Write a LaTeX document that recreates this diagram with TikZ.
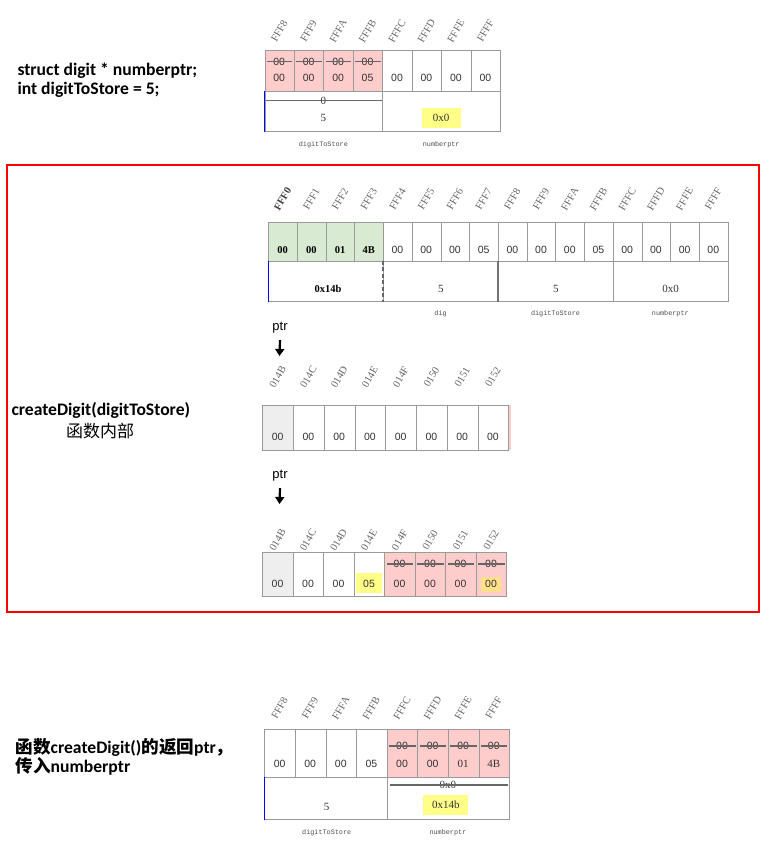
\documentclass[tikz,border=0pt]{standalone}
\usepackage{fontspec}
\setmainfont{Liberation Serif}
\newfontfamily\calib{Carlito}
\newfontfamily\cjk{Noto Sans CJK SC}
\newfontfamily\arial{Liberation Sans}
\newfontfamily\mono{Liberation Mono}
\usetikzlibrary{arrows.meta,calc}
\definecolor{pinkc}{HTML}{FFCCCC}
\definecolor{greenc}{HTML}{D9EAD3}
\definecolor{greyc}{HTML}{EEEEEE}
\definecolor{hlyellow}{HTML}{FFFF88}
\definecolor{hlorange}{HTML}{FFE08A}
\definecolor{gridc}{HTML}{9A9A9A}
\tikzset{
	cell/.style={draw=gridc, line width=0.8pt, anchor=north west, inner sep=0pt},
	addr/.style={rotate=60, text=black!60, font=\fontsize{10.5}{10.5}\selectfont, inner sep=0pt},
	val/.style={font=\arial\fontsize{10.5}{10.5}\selectfont, text=black!80, inner sep=1pt},
	sval/.style={font=\fontsize{11}{11}\selectfont, text=black!80, inner sep=1pt},
	bval/.style={font=\bfseries\fontsize{10.5}{10.5}\selectfont, inner sep=1pt},
	varname/.style={font=\mono\fontsize{6.8}{6.8}\selectfont, text=black!70},
	strikeln/.style={draw=black!60, line width=1.2pt},
	hl/.style={fill=hlyellow, inner sep=0pt},
	ptrtxt/.style={font=\arial\fontsize{13}{13}\selectfont},
	ptrarrow/.style={-{Triangle[length=7pt,width=9pt]}, line width=2.2pt},
	codetxt/.style={font=\calib\bfseries\fontsize{17.6}{19}\selectfont, anchor=west, align=left},
}
\begin{document}
\begin{tikzpicture}[x=1pt, y=-1pt]
		\useasboundingbox (0,0) rectangle (775,865);
		
		%%%%% declarations %%%%%
		\node[codetxt] (decl) at (14,80) {struct digit * numberptr;\\int digitToStore = 5;};
		
		\foreach \a [count=\i] in {FFF8,FFF9,FFFA,FFFB,FFFC,FFFD,FFFE,FFFF}
			\node[addr] (ta\i) at ({264.5+(\i-0.5)*29.45}, 31) {\a};
		\foreach \i/\f in {1/pinkc,2/pinkc,3/pinkc,4/pinkc,5/white,6/white,7/white,8/white}
			\node[cell, fill=\f, minimum width=29.45pt, minimum height=41pt] (tc\i) at ({264.5+(\i-1)*29.45}, 50) {};
		\foreach \v [count=\i] in {00,00,00,05,00,00,00,00}
			\node[val] (tv\i) at ({264.5+(\i-0.5)*29.45}, 78) {\v};
		\foreach \i in {1,...,4} {
			\node[val] (ts\i) at ({264.5+(\i-0.5)*29.45}, 61.5) {00};
			\draw[strikeln] ([xshift=2.5pt]tc\i.west |- ts\i.center) -- ([xshift=-2.5pt]tc\i.east |- ts\i.center);
		}
		\node[cell, minimum width=117.8pt, minimum height=40pt] (tdig) at (264.5,91) {};
		\node[cell, minimum width=117.8pt, minimum height=40pt] (tptr) at (382.3,91) {};
		\draw[blue, line width=1pt] (tdig.north west) -- (tdig.south west);
		\node[sval] (told) at (323.4,100.7) {0};
		\draw[strikeln] ([xshift=1.5pt]tdig.west |- told.center) -- ([xshift=-1.5pt]tdig.east |- told.center);
		\node[sval] (tfive) at (323.4,118) {5};
		\node[sval, hl, minimum width=39pt, minimum height=20pt] (tnull) at (441.2,118) {0x0};
		\node[varname] at (323.4,145) {digitToStore};
		\node[varname] at (441.2,145) {numberptr};
		
		%%%%% inside createDigit %%%%%
		\draw[red, line width=1.2pt] (7,165) rectangle (759,612);
		\node[codetxt] (call) at (8,410) {createDigit(digitToStore)};
		\node[font=\cjk\fontsize{17}{17}\selectfont] (inside) at (100,431) {函数内部};
		
		\foreach \a [count=\i] in {FFF1,FFF2,FFF3,FFF4,FFF5,FFF6,FFF7,FFF8,FFF9,FFFA,FFFB,FFFC,FFFD,FFFE,FFFF}
			\node[addr] (sa\i) at ({268.3+(\i+0.5)*28.71}, 199) {\a};
		\node[addr, text=black!75, font=\bfseries\fontsize{10.5}{10.5}\selectfont] (sa0) at ({268.3+0.5*28.71}, 199) {FFF0};
		\foreach \i/\f in {1/greenc,2/greenc,3/greenc,4/greenc,5/white,6/white,7/white,8/white,9/white,10/white,11/white,12/white,13/white,14/white,15/white,16/white}
			\node[cell, fill=\f, minimum width=28.71pt, minimum height=39pt] (sc\i) at ({268.3+(\i-1)*28.71}, 221.7) {};
		\foreach \v [count=\i] in {00,00,01,4B}
			\node[bval] (sv\i) at ({268.3+(\i-0.5)*28.71}, 250) {\v};
		\foreach \v [count=\i from 5] in {00,00,00,05,00,00,00,05,00,00,00,00}
			\node[val] (sv\i) at ({268.3+(\i-0.5)*28.71}, 250) {\v};
		\foreach \i in {1,...,4}
			\node[cell, minimum width=114.84pt, minimum height=40.3pt] (sg\i) at ({268.3+(\i-1)*114.84}, 260.7) {};
		\draw[blue, line width=1pt] (sg1.north west) -- (sg1.south west);
		\draw[black!60, line width=2pt, dash pattern=on 4pt off 2.5pt] (sg2.north west) -- (sg2.south west);
		\draw[black!55, line width=2pt] (sg3.north west) -- (sg3.south west);
		\node[bval] (sptr) at ($(sg1.center)+(2,8)$) {0x14b};
		\node[sval] (sdie) at ($(sg2.center)+(0,8)$) {5};
		\node[sval] (sdig) at ($(sg3.center)+(0,8)$) {5};
		\node[sval] (snum) at ($(sg4.center)+(0,8)$) {0x0};
		\node[varname] at (440.6,314) {dig};
		\node[varname] at (555.5,314) {digitToStore};
		\node[varname] at (670.3,314) {numberptr};
		
		% heap, after malloc
		\node[ptrtxt] (ptra) at (280,328) {ptr};
		\coordinate (ptraend) at (279.5,356);
		\draw[ptrarrow] ([yshift=-3pt]ptra.south) -- (ptraend);
		\foreach \a [count=\i] in {014B,014C,014D,014E,014F,0150,0151,0152}
			\node[addr] (ha\i) at ({262.3+(\i-0.5)*30.75}, 377) {\a};
		\fill[pinkc] (508.3,405) rectangle (511.3,450);
		\foreach \i/\f in {1/greyc,2/white,3/white,4/white,5/white,6/white,7/white,8/white}
			\node[cell, fill=\f, minimum width=30.75pt, minimum height=45pt] (hc\i) at ({262.3+(\i-1)*30.75}, 405) {};
		\foreach \i in {1,...,8}
			\node[val] (hv\i) at ({262.3+(\i-0.5)*30.75}, 436.7) {00};
		
		% heap, after the stores
		\node[ptrtxt] (ptrb) at (280,476) {ptr};
		\coordinate (ptrbend) at (279.5,504);
		\draw[ptrarrow] ([yshift=-3pt]ptrb.south) -- (ptrbend);
		\foreach \a [count=\i] in {014B,014C,014D,014E,014F,0150,0151,0152}
			\node[addr] (ka\i) at ({262.3+(\i-0.5)*30.5}, 540) {\a};
		\foreach \i/\f in {1/greyc,2/white,3/white,4/white,5/pinkc,6/pinkc,7/pinkc,8/pinkc}
			\node[cell, fill=\f, minimum width=30.5pt, minimum height=43.7pt] (kc\i) at ({262.3+(\i-1)*30.5}, 552.3) {};
		\node[hl, minimum width=26.7pt, minimum height=19.7pt] (kfive) at ({262.3+3.5*30.5}, 583) {};
		\node[fill=hlorange, inner sep=0pt, minimum width=20pt, minimum height=15pt] (klast) at ({262.3+7.5*30.5}, 584.2) {};
		\foreach \v [count=\i] in {00,00,00,05,00,00,00,00}
			\node[val] (kv\i) at ({262.3+(\i-0.5)*30.5}, 584) {\v};
		\foreach \i in {5,...,8} {
			\node[val] (ks\i) at ({262.3+(\i-0.5)*30.5}, 564) {00};
			\draw[strikeln] ([xshift=2.5pt]kc\i.west |- ks\i.center) -- ([xshift=-2.5pt]kc\i.east |- ks\i.center);
		}
		
		%%%%% after return %%%%%
		\node[codetxt] (ret) at (12,757) {{\cjk 函数}createDigit(){\cjk 的返回}ptr{\cjk ，}\\{\cjk 传入}numberptr};
		
		\foreach \a [count=\i] in {FFF8,FFF9,FFFA,FFFB,FFFC,FFFD,FFFE,FFFF}
			\node[addr] (ba\i) at ({264.3+(\i-0.5)*30.6}, 708) {\a};
		\foreach \i/\f in {1/white,2/white,3/white,4/white,5/pinkc,6/pinkc,7/pinkc,8/pinkc}
			\node[cell, fill=\f, minimum width=30.6pt, minimum height=48pt] (bc\i) at ({264.3+(\i-1)*30.6}, 729.3) {};
		\foreach \v [count=\i] in {00,00,00,05,00,00}
			\node[val] (bv\i) at ({264.3+(\i-0.5)*30.6}, 764) {\v};
		\node[sval] (bv7) at ({264.3+6.5*30.6}, 764) {01};
		\node[sval] (bv8) at ({264.3+7.5*30.6}, 764) {4B};
		\foreach \i in {5,...,8} {
			\node[val] (bs\i) at ({264.3+(\i-0.5)*30.6}, 746) {00};
			\draw[strikeln] ([xshift=2.5pt]bc\i.west |- bs\i.center) -- ([xshift=-2.5pt]bc\i.east |- bs\i.center);
		}
		\node[cell, minimum width=122.4pt, minimum height=42pt] (bdig) at (264.3,777.3) {};
		\node[cell, minimum width=122.4pt, minimum height=42pt] (bptr) at (386.7,777.3) {};
		\draw[blue, line width=1pt] (bdig.north west) -- (bdig.south west);
		\node[sval] (bfive) at (326.7,806.7) {5};
		\node[sval] (bold) at (447.9,785) {0x0};
		\draw[strikeln] ([xshift=3pt]bptr.west |- bold.center) -- ([xshift=-2pt]bptr.east |- bold.center);
		\node[sval, hl, minimum width=45pt, minimum height=20pt] (bnew) at (445.8,805) {0x14b};
		\node[varname] at (326.7,833) {digitToStore};
		\node[varname] at (447.9,833) {numberptr};
		
	\end{tikzpicture}
\end{document}
